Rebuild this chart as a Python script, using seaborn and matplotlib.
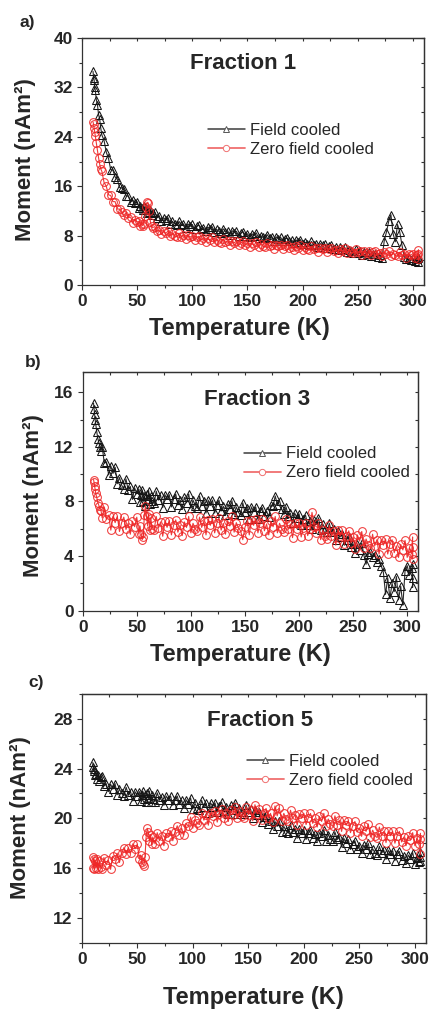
import matplotlib
matplotlib.use('Agg')
import matplotlib.pyplot as plt
import seaborn as sns
from matplotlib.lines import Line2D
from matplotlib.ticker import MultipleLocator

# Temperature grid (K), shared by all measurements
T = [10, 10.5, 11, 11.5, 12, 13, 14, 15, 16, 17,
     18, 20, 22, 24, 26, 28, 30, 32, 34, 36,
     38, 40, 42, 44, 46, 48, 50, 52, 53, 54,
     55, 56, 57, 58, 59, 60, 61, 62, 63, 64,
     66, 68, 70, 72, 74, 76, 78, 80, 82, 84,
     86, 88, 90, 92, 94, 96, 98, 100, 102, 104,
     106, 108, 110, 112, 114, 116, 118, 120, 122, 124,
     126, 128, 130, 132, 134, 136, 138, 140, 142, 144,
     146, 148, 150, 152, 154, 156, 158, 160, 162, 164,
     166, 168, 170, 172, 174, 176, 178, 180, 182, 184,
     186, 188, 190, 192, 194, 196, 198, 200, 202, 204,
     206, 208, 210, 212, 214, 216, 218, 220, 222, 224,
     226, 228, 230, 232, 234, 236, 238, 240, 242, 244,
     246, 248, 250, 252, 254, 256, 258, 260, 262, 264,
     266, 268, 270, 272, 274, 276, 278, 280, 282, 284,
     286, 288, 290, 292, 294, 296, 298, 300, 302, 304,
     305, 305, 305]

# Fraction 1
a_fc = [34.6, 33.6, 33.2, 32.0, 31.6, 30.0, 29.2, 27.6, 26.9, 25.4,
        24.3, 23.4, 21.5, 20.5, 18.7, 18.6, 17.5, 17.1, 15.8, 15.7,
        15.5, 14.4, 14.4, 13.4, 13.8, 13.2, 13.5, 12.4, 12.8, 12.4,
        12.2, 12.8, 12.2, 12.4, 11.6, 12.3, 11.9, 12.1, 11.3, 11.7,
        11.8, 10.9, 11.1, 10.4, 10.9, 10.5, 10.9, 9.9, 10.3, 9.9,
        9.7, 10.3, 9.7, 9.9, 9.2, 9.9, 9.5, 9.8, 9.0, 9.5,
        9.7, 9.1, 9.3, 8.8, 9.4, 9.05, 9.45, 8.65, 9.0, 8.7,
        8.5, 9.1, 8.6, 8.8, 8.1, 8.8, 8.5, 8.7, 8.0, 8.4,
        8.65, 8.0, 8.3, 7.75, 8.3, 8.0, 8.45, 7.65, 8.0, 7.7,
        7.55, 8.15, 7.6, 7.85, 7.15, 7.8, 7.5, 7.75, 7.05, 7.45,
        7.6, 7.05, 7.3, 6.8, 7.3, 6.95, 7.35, 6.6, 6.95, 6.7,
        6.5, 7.05, 6.5, 6.7, 6.1, 6.7, 6.4, 6.6, 5.95, 6.3,
        6.45, 5.9, 6.1, 5.6, 6.1, 5.75, 6.15, 5.4, 5.7, 5.45,
        5.25, 5.75, 5.25, 5.45, 4.8, 5.4, 5.1, 5.3, 4.65, 5.0,
        5.1, 4.5, 4.9, 4.4, 7.2, 8.6, 10.3, 11.4, 8.3, 7.0,
        9.8, 8.6, 6.5, 4.6, 4.2, 4.4, 4.0, 4.3, 3.9, 4.2,
        4.6, 3.8, 4.3]
a_zfc = [26.4, 26.0, 25.4, 24.8, 24.2, 23.0, 21.8, 20.6, 19.6, 18.8,
         18.4, 16.6, 16.0, 14.6, 14.5, 13.5, 13.5, 12.3, 12.3, 11.8,
         11.3, 11.7, 10.9, 11.0, 10.1, 10.6, 10.2, 10.3, 9.5, 9.9,
         9.6, 9.9, 11.2, 12.7, 13.4, 13.3, 12.0, 10.2, 9.5, 9.3,
         9.45, 8.7, 8.85, 8.2, 8.7, 8.35, 8.75, 7.9, 8.3, 7.95,
         7.8, 8.4, 7.85, 8.1, 7.4, 8.05, 7.75, 8.0, 7.3, 7.7,
         7.9, 7.3, 7.55, 7.0, 7.55, 7.25, 7.7, 6.95, 7.35, 7.0,
         6.85, 7.45, 6.9, 7.15, 6.5, 7.15, 6.85, 7.1, 6.4, 6.85,
         7.1, 6.5, 6.75, 6.2, 6.8, 6.5, 6.95, 6.2, 6.6, 6.3,
         6.15, 6.8, 6.3, 6.55, 5.85, 6.55, 6.3, 6.55, 5.85, 6.3,
         6.55, 5.95, 6.2, 5.7, 6.3, 6.0, 6.45, 5.7, 6.1, 5.8,
         5.65, 6.3, 5.8, 6.05, 5.35, 6.05, 5.8, 6.05, 5.35, 5.8,
         6.05, 5.45, 5.7, 5.2, 5.8, 5.5, 5.95, 5.2, 5.6, 5.3,
         5.15, 5.8, 5.3, 5.55, 4.85, 5.55, 5.25, 5.55, 4.85, 5.3,
         5.55, 4.95, 5.2, 4.7, 5.3, 5.0, 5.45, 4.7, 5.1, 4.8,
         4.65, 5.3, 4.8, 5.05, 4.4, 5.1, 4.8, 5.1, 4.4, 4.85,
         5.7, 4.2, 5.0]

# Fraction 3
b_fc = [15.2, 14.8, 14.4, 14.0, 13.7, 13.1, 12.6, 12.3, 12.0, 11.7,
        12.0, 10.8, 10.9, 9.95, 10.6, 10.05, 10.5, 9.3, 9.75, 9.2,
        8.9, 9.65, 8.85, 9.1, 8.15, 9.0, 8.55, 8.9, 7.95, 8.5,
        8.85, 8.0, 8.4, 7.7, 8.55, 8.15, 8.8, 7.8, 8.4, 8.0,
        7.85, 8.75, 8.1, 8.45, 7.55, 8.5, 8.15, 8.5, 7.6, 8.2,
        8.55, 7.75, 8.1, 7.45, 8.3, 7.9, 8.55, 7.5, 8.1, 7.7,
        7.5, 8.4, 7.7, 8.05, 7.15, 8.1, 7.7, 8.1, 7.15, 7.75,
        8.1, 7.3, 7.65, 7.0, 7.8, 7.45, 8.05, 7.05, 7.6, 7.2,
        7.0, 7.9, 7.2, 7.55, 6.7, 7.6, 7.25, 7.6, 6.7, 7.3,
        7.55, 6.9, 7.3, 6.85, 7.75, 7.65, 8.4, 7.75, 8.05, 7.45,
        7.05, 7.6, 6.95, 7.15, 6.4, 7.15, 6.8, 7.1, 6.3, 6.75,
        7.0, 6.3, 6.6, 6.0, 6.65, 6.3, 6.8, 5.9, 6.35, 6.0,
        5.75, 6.4, 5.75, 5.95, 5.15, 5.8, 5.4, 5.65, 4.8, 5.2,
        5.4, 4.65, 4.9, 4.25, 4.85, 4.45, 4.95, 4.05, 3.4, 4.15,
        4.3, 3.9, 4.1, 3.6, 3.8, 3.3, 2.8, 1.2, 2.4, 0.9,
        2.0, 1.4, 2.5, 0.8, 1.8, 0.4, 2.9, 3.3, 2.6, 3.1,
        2.4, 1.7, 3.4]
b_zfc = [9.6, 9.4, 9.1, 8.9, 8.6, 8.3, 7.9, 7.7, 7.4, 7.3,
         6.8, 7.6, 6.7, 7.0, 5.9, 6.9, 6.45, 6.9, 5.8, 6.45,
         6.85, 5.95, 6.4, 5.6, 6.55, 6.15, 6.85, 5.6, 6.2, 5.6,
         5.2, 5.4, 7.0, 7.7, 6.9, 6.2, 7.1, 5.9, 6.8, 6.0,
         5.9, 6.9, 6.05, 6.5, 5.45, 6.55, 6.1, 6.6, 5.55, 6.25,
         6.65, 5.75, 6.25, 5.5, 6.5, 6.1, 6.9, 5.7, 6.4, 6.0,
         5.8, 6.85, 6.1, 6.55, 5.55, 6.65, 6.25, 6.75, 5.7, 6.4,
         6.8, 5.9, 6.4, 5.6, 6.6, 6.2, 6.95, 5.75, 6.45, 6.05,
         5.85, 5.2, 6.1, 6.55, 5.55, 6.65, 6.25, 6.75, 5.7, 6.4,
         6.75, 5.85, 6.35, 5.55, 6.55, 6.15, 6.9, 5.7, 6.4, 6.0,
         5.75, 6.75, 5.95, 6.35, 5.35, 6.4, 6.0, 6.45, 5.4, 6.05,
         6.45, 5.5, 6.0, 7.2, 6.15, 5.7, 6.45, 5.2, 5.9, 5.45,
         5.25, 6.25, 5.45, 5.85, 4.8, 5.9, 5.45, 5.9, 4.85, 5.5,
         5.85, 4.95, 5.4, 4.55, 5.55, 5.1, 5.8, 4.6, 5.25, 4.8,
         4.6, 5.6, 4.75, 5.2, 4.15, 5.2, 4.8, 5.25, 4.15, 4.85,
         5.2, 4.25, 4.75, 3.9, 4.85, 4.45, 5.15, 3.9, 4.6, 4.15,
         5.4, 3.8, 4.7]

# Fraction 5
c_fc = [24.5, 24.1, 23.8, 24.0, 23.5, 23.6, 23.2, 23.5, 23.0, 23.3,
        23.4, 22.6, 22.8, 22.15, 22.75, 22.35, 22.8, 21.9, 22.35, 22.0,
        21.8, 22.5, 21.9, 22.15, 21.4, 22.15, 21.8, 22.15, 21.4, 21.9,
        22.2, 21.55, 21.85, 21.3, 22.0, 21.65, 22.2, 21.35, 21.85, 21.55,
        21.35, 22.05, 21.5, 21.75, 21.05, 21.8, 21.5, 21.8, 21.05, 21.5,
        21.8, 21.15, 21.45, 20.85, 21.5, 21.15, 21.65, 20.75, 21.2, 20.85,
        20.7, 21.45, 20.9, 21.2, 20.45, 21.25, 20.95, 21.25, 20.5, 21.0,
        21.3, 20.6, 20.95, 20.35, 21.05, 20.7, 21.25, 20.35, 20.85, 20.5,
        20.35, 21.05, 20.5, 20.75, 20.0, 20.7, 20.3, 20.55, 19.7, 20.1,
        20.3, 19.55, 19.8, 19.15, 19.75, 19.35, 19.8, 18.9, 19.35, 19.0,
        18.8, 19.5, 18.9, 19.15, 18.4, 19.15, 18.8, 19.1, 18.3, 18.8,
        19.1, 18.45, 18.75, 18.2, 18.85, 18.55, 19.1, 18.2, 18.7, 18.35,
        18.2, 18.9, 18.3, 18.5, 17.7, 18.4, 18.0, 18.3, 17.5, 17.95,
        18.2, 17.5, 17.8, 17.2, 17.85, 17.5, 18.0, 17.1, 17.55, 17.25,
        17.05, 17.75, 17.2, 17.45, 16.7, 17.45, 17.1, 17.4, 16.6, 17.1,
        17.35, 16.65, 17.0, 16.4, 17.05, 16.75, 17.25, 16.35, 16.85, 16.5,
        17.3, 16.6, 16.9]
c_zfc = [16.9, 16.0, 16.7, 15.9, 16.6, 16.0, 16.7, 15.9, 16.6, 16.1,
         15.95, 16.85, 16.25, 16.65, 15.9, 16.95, 16.7, 17.2, 16.45, 17.2,
         17.65, 17.15, 17.65, 17.2, 17.95, 17.55, 17.9, 16.75, 17.05, 16.45,
         16.3, 16.2, 16.9, 18.5, 19.2, 18.9, 18.2, 18.7, 17.9, 18.5,
         17.95, 18.85, 18.2, 18.6, 17.8, 18.8, 18.5, 19.0, 18.2, 18.9,
         19.4, 18.7, 19.2, 18.65, 19.6, 19.35, 20.1, 19.2, 19.9, 19.6,
         19.5, 20.45, 19.85, 20.25, 19.45, 20.45, 20.15, 20.6, 19.7, 20.35,
         20.75, 20.0, 20.4, 19.75, 20.65, 20.3, 20.95, 20.0, 20.6, 20.2,
         20.05, 20.95, 20.3, 20.65, 19.8, 21.1, 20.35, 20.75, 19.85, 20.45,
         20.8, 20.0, 20.4, 19.7, 21.0, 20.2, 20.8, 19.8, 20.4, 19.95,
         19.8, 20.65, 20.0, 20.3, 19.45, 20.35, 20.0, 20.4, 19.5, 20.05,
         20.4, 19.6, 20.0, 19.3, 20.15, 19.75, 20.4, 19.4, 19.95, 19.55,
         19.35, 20.2, 19.5, 19.85, 18.95, 19.85, 19.45, 19.8, 18.85, 19.4,
         19.75, 18.9, 19.25, 18.55, 19.35, 18.95, 19.55, 18.5, 19.05, 18.6,
         18.45, 19.3, 18.6, 18.95, 18.05, 18.95, 18.6, 18.95, 18.0, 18.6,
         18.95, 18.1, 18.5, 17.8, 18.6, 18.25, 18.85, 17.8, 18.4, 17.95,
         18.8, 17.1, 18.3]

panel_labels = ['a)', 'b)', 'c)']
titles = ['Fraction 1', 'Fraction 3', 'Fraction 5']
series_labels = ['Field cooled', 'Zero field cooled']
x_ticks = [0, 50, 100, 150, 200, 250, 300]
y_ticks_list = [[0, 8, 16, 24, 32, 40], [0, 4, 8, 12, 16], [12, 16, 20, 24, 28]]
y_lims = [(0, 40), (0, 17.5), (10, 30)]
y_minor = [4, 2, 2]
fc_list = [a_fc, b_fc, c_fc]
zfc_list = [a_zfc, b_zfc, c_zfc]

sns.set_style('ticks')
plt.rcParams['font.family'] = ['Liberation Sans', 'DejaVu Sans']

W, H = 432, 1009
fig = plt.figure(figsize=(W / 100, H / 100), dpi=100)

# layout in pixels: (left, top, right, bottom)
rects_px = [(82, 38, 424, 285), (82.7, 371.7, 418, 610.7), (81.7, 694, 426, 942.7)]
title_xy = [(0.471, 0.895), (0.52, 0.882), (0.518, 0.893)]
leg_xy = [(0.368, 0.589), (0.481, 0.616), (0.480, 0.690)]
xlab_xy = [(0.46, -0.178), (0.47, -0.184), (0.50, -0.221)]
ylab_xy = [(-0.165, 0.506), (-0.146, 0.48), (-0.177, 0.505)]
plab_px = [(20, 23), (25, 362), (28, 683)]

BLACK = '#151515'
RED = '#ee2626'
SPINE = '#333333'

for i in range(3):
    l, t, r, b = rects_px[i]
    ax = fig.add_axes([l / W, 1 - b / H, (r - l) / W, (b - t) / H])
    sns.lineplot(x=T, y=fc_list[i], ax=ax, estimator=None, sort=False,
                 color='#2a2a2a', linewidth=0.8, marker='^', markersize=6.0,
                 markerfacecolor='none', markeredgecolor=BLACK, markeredgewidth=0.75)
    sns.lineplot(x=T, y=zfc_list[i], ax=ax, estimator=None, sort=False,
                 color=RED, linewidth=0.8, marker='o', markersize=5.6,
                 markerfacecolor='none', markeredgecolor=RED, markeredgewidth=0.75,
                 alpha=0.9)
    ax.set_xlim(0, 310)
    ax.set_ylim(*y_lims[i])
    ax.set_xticks(x_ticks)
    ax.set_yticks(y_ticks_list[i])
    ax.xaxis.set_minor_locator(MultipleLocator(25))
    ax.yaxis.set_minor_locator(MultipleLocator(y_minor[i]))
    ax.tick_params(which='both', direction='out', top=False, right=False,
                   color=SPINE, width=0.8, labelsize=12.5, pad=3)
    ax.tick_params(which='major', length=3.5)
    ax.tick_params(which='minor', length=2)
    for lab in ax.get_xticklabels() + ax.get_yticklabels():
        lab.set_fontweight('bold')
    for sp in ax.spines.values():
        sp.set_color(SPINE)
        sp.set_linewidth(0.9)
    sx = ax.secondary_xaxis('top')
    sx.set_xticks(x_ticks)
    sx.xaxis.set_minor_locator(MultipleLocator(25))
    sx.tick_params(which='both', direction='in', labeltop=False, color=SPINE,
                   width=0.8, length=2.5)
    sx.spines['top'].set_color(SPINE)
    sx.spines['top'].set_linewidth(0.9)
    sy = ax.secondary_yaxis('right')
    sy.set_yticks(y_ticks_list[i])
    sy.yaxis.set_minor_locator(MultipleLocator(y_minor[i]))
    sy.tick_params(which='both', direction='in', labelright=False, color=SPINE,
                   width=0.8, length=2.5)
    sy.spines['right'].set_color(SPINE)
    sy.spines['right'].set_linewidth(0.9)

    ax.set_xlabel('Temperature (K)', fontsize=17, fontweight='bold', va='center')
    ax.set_ylabel('Moment (nAm²)', fontsize=16, fontweight='bold', va='center')
    ax.xaxis.set_label_coords(*xlab_xy[i])
    ax.yaxis.set_label_coords(*ylab_xy[i])
    ax.text(title_xy[i][0], title_xy[i][1], titles[i], transform=ax.transAxes,
            ha='center', va='center', fontsize=16, fontweight='bold')

    handles = [Line2D([], [], color='#3c3c3c', lw=1.1, marker='^', markersize=4.5,
                      markerfacecolor='white', markeredgecolor='#555555', markeredgewidth=0.7),
               Line2D([], [], color='#f07070', lw=1.3, marker='o', markersize=4.5,
                      markerfacecolor='white', markeredgecolor='#f07070', markeredgewidth=0.7)]
    ax.legend(handles, series_labels, loc='center left', bbox_to_anchor=leg_xy[i],
              frameon=False, borderpad=0, borderaxespad=0, handlelength=2.2,
              handletextpad=0.3, labelspacing=0.24, fontsize=12, numpoints=1)

    fig.text(plab_px[i][0] / W, 1 - plab_px[i][1] / H, panel_labels[i],
             ha='left', va='center', fontsize=12.5, fontweight='bold')

fig.savefig('out.png', dpi=100)
